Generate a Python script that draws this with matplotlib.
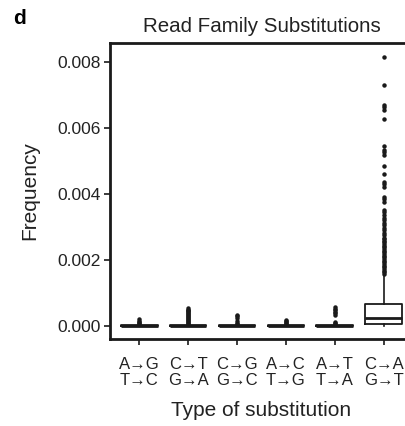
import numpy as np
import matplotlib.pyplot as plt

plt.rcParams['font.family'] = ['Liberation Sans', 'DejaVu Sans']

# substitution classes (two strand-equivalent labels each)
labels = ['A\u2192G\nT\u2192C', 'C\u2192T\nG\u2192A', 'C\u2192G\nG\u2192C',
          'A\u2192C\nT\u2192G', 'A\u2192T\nT\u2192A', 'C\u2192A\nG\u2192T']

# box statistics
q1 = [0.0, 0.0, 0.0, 0.0, 0.0, 0.00006]
med = [0.0, 0.0, 0.0, 0.0, 0.0, 0.00025]
q3 = [0.00003, 0.00003, 0.00003, 0.00003, 0.00003, 0.00067]
wlo = [0.0, 0.0, 0.0, 0.0, 0.0, 0.0]
whi = [0.00004, 0.00005, 0.00004, 0.00004, 0.00004, 0.00155]

# outliers
fl_ag = [0.00006, 0.00009, 0.00012, 0.00016, 0.0002]
fl_ct = [0.00006, 0.00008, 0.00011, 0.00014, 0.00017, 0.0002, 0.00023, 0.00026,
         0.00029, 0.00032, 0.00035, 0.00038, 0.00041, 0.00044, 0.00047, 0.0005,
         0.00054]
fl_cg = [0.00006, 0.00009, 0.00015, 0.00025, 0.00029, 0.00033]
fl_ac = [0.00006, 0.00008, 0.00011, 0.00015, 0.00018]
fl_at = [0.00006, 0.00009, 0.00013, 0.00033, 0.00038, 0.00043, 0.00048,
         0.00053, 0.00058]
fl_ca = [0.00158, 0.00163, 0.00168, 0.00173, 0.00178, 0.00183, 0.00188,
         0.00193, 0.00198, 0.00203, 0.00208, 0.00213, 0.00218, 0.00223,
         0.00228, 0.00233, 0.00238, 0.00243, 0.00248, 0.00253, 0.00258,
         0.00263, 0.00268, 0.00275, 0.00282, 0.0029, 0.00297, 0.00305,
         0.00312, 0.0032, 0.00328, 0.00336, 0.00344, 0.00352, 0.00377,
         0.00384, 0.00392, 0.00422, 0.0043, 0.00437, 0.0046, 0.00486,
         0.00518, 0.00526, 0.00533, 0.00545, 0.00627, 0.00655, 0.00663,
         0.0067, 0.0073, 0.00816]
fliers = [fl_ag, fl_ct, fl_cg, fl_ac, fl_at, fl_ca]

stats = []
for i in range(len(labels)):
    stats.append({'q1': q1[i], 'med': med[i], 'q3': q3[i],
                  'whislo': wlo[i], 'whishi': whi[i], 'fliers': fliers[i]})

fig = plt.figure(figsize=(4.05, 4.26), dpi=100)
ax = fig.add_axes([0.2716, 0.2042, 0.748, 0.695])

ax.bxp(stats, positions=np.arange(1, 7), widths=0.75, showcaps=False,
       boxprops=dict(color='#1a1a1a', linewidth=1.3),
       medianprops=dict(color='#1a1a1a', linewidth=2.0),
       whiskerprops=dict(color='#1a1a1a', linewidth=1.2),
       flierprops=dict(marker='o', markerfacecolor='#1a1a1a',
                       markeredgecolor='#1a1a1a', markersize=2.2))

ax.set_xlim(0.4, 6.6)
ax.set_ylim(-0.000394, 0.008576)
ax.set_yticks([0, 0.002, 0.004, 0.006, 0.008])
ax.set_yticklabels(['0.000', '0.002', '0.004', '0.006', '0.008'])
ax.set_xticks(np.arange(1, 7))
ax.set_xticklabels(labels, linespacing=1.1)

for s in ['left', 'bottom', 'top']:
    ax.spines[s].set_linewidth(2.0)
    ax.spines[s].set_color('#1a1a1a')
ax.spines['right'].set_visible(False)

ax.tick_params(axis='y', labelsize=12.5, length=4, width=1.2, colors='#1a1a1a',
               labelcolor='#222222', pad=3)
ax.tick_params(axis='x', labelsize=12, length=4, width=1.2, colors='#1a1a1a',
               labelcolor='#222222', pad=9)

ax.set_title('Read Family Substitutions', fontsize=14.8, color='#222222', pad=8)
ax.set_ylabel('Frequency', fontsize=15, color='#222222', labelpad=13)
ax.set_xlabel('Type of substitution', fontsize=15, color='#222222', labelpad=9)

fig.text(0.032, 0.98, 'd', fontsize=15, fontweight='bold', va='top', ha='left')

fig.savefig('out.png', dpi=100)
